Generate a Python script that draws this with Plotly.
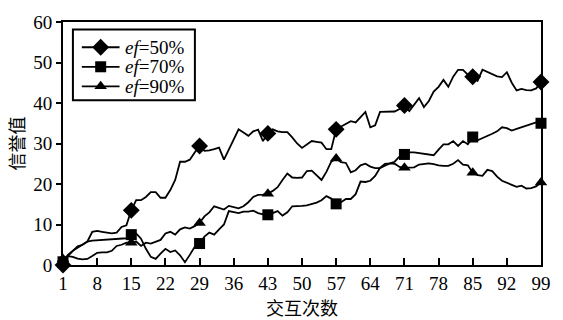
import plotly.graph_objects as go

# Interaction count (x) and trust value of each series
steps = list(range(1, 100))

ef50 = [0, 2.2, 3.5, 4.3, 5.2, 5.8, 8.2, 8.4, 8.2, 8.0,
        7.8, 8.0, 9.4, 9.8, 13.5, 16.0, 16.0, 16.8, 18.0, 18.0,
        16.6, 16.6, 18.5, 21.0, 25.5, 25.5, 26.0, 27.8, 29.4, 28.2,
        28.3, 28.6, 29.0, 26.0, 28.5, 31.0, 33.5, 32.7, 31.9, 33.0,
        33.4, 30.6, 32.5, 33.5, 33.0, 32.8, 32.8, 31.5, 30.0, 28.9,
        29.8, 30.6, 30.4, 30.2, 28.6, 28.6, 33.5, 34.2, 34.7, 35.5,
        35.2, 36.5, 37.8, 34.0, 34.5, 37.8, 37.8, 37.8, 37.9, 38.5,
        39.4, 38.0, 39.6, 41.2, 39.0, 40.5, 42.8, 44.0, 45.7, 44.0,
        46.5, 48.2, 48.2, 47.0, 46.5, 45.5, 48.2, 47.6, 47.2, 46.6,
        46.4, 47.6, 45.0, 43.1, 43.5, 43.2, 43.1, 43.6, 45.2]

ef70 = [0.8, 2.5, 3.5, 4.6, 5.0, 5.8, 6.0, 6.1, 6.2, 6.2,
        6.3, 6.5, 6.6, 6.6, 7.5, 7.8, 6.5, 4.0, 2.0, 1.5,
        2.8, 4.0, 3.2, 3.6, 2.4, 0.7, 2.5, 4.5, 5.3, 7.0,
        8.0, 7.5, 8.8, 10.0, 13.3, 13.0, 12.8, 13.2, 13.2, 13.4,
        12.8, 12.5, 12.4, 12.8, 13.3, 12.2, 13.0, 14.5, 14.5, 14.6,
        14.7, 15.0, 15.4, 16.0, 17.0, 16.4, 15.1, 15.5, 16.3, 16.3,
        17.5, 20.6, 20.5, 20.8, 22.0, 24.0, 25.0, 25.1, 25.5, 26.8,
        27.3, 27.8, 27.8, 27.6, 27.4, 27.2, 27.1, 28.5, 29.8, 29.8,
        30.6, 29.4, 30.6, 29.8, 31.6, 30.8, 31.3, 31.8, 32.4, 33.0,
        34.0, 33.8, 33.2, 33.6, 34.0, 34.4, 34.9, 35.2, 35.0]

ef90 = [1.5, 2.2, 2.0, 1.6, 1.4, 1.5, 2.2, 3.0, 3.1, 3.1,
        3.5, 4.7, 5.0, 5.5, 5.5, 5.8, 4.7, 5.5, 5.3, 5.7,
        6.2, 7.8, 8.2, 7.5, 8.8, 9.3, 9.0, 9.6, 10.4, 12.0,
        13.0, 14.5, 14.0, 13.7, 14.6, 14.3, 14.0, 14.5, 15.5, 16.8,
        17.3, 17.4, 17.6, 18.3, 19.2, 21.0, 22.6, 21.6, 21.5, 21.6,
        23.2, 23.3, 22.2, 21.0, 23.0, 25.5, 26.3, 25.4, 25.2, 22.9,
        23.4, 24.6, 25.0, 24.3, 23.9, 23.9, 24.5, 25.1, 25.0, 24.2,
        24.0, 24.0, 24.1, 24.8, 24.9, 25.1, 24.9, 24.6, 24.5, 24.5,
        25.0, 25.9, 24.8, 24.6, 22.8, 22.2, 22.0, 23.5, 23.2, 21.8,
        20.8, 20.2, 19.8, 19.3, 19.6, 18.9, 19.0, 19.4, 20.4]

series_names = ["<i>ef</i>=50%", "<i>ef</i>=70%", "<i>ef</i>=90%"]
series_values = [ef50, ef70, ef90]
series_symbols = ["diamond", "square", "triangle-up"]
series_msize = [13, 11, 11]

x_ticks = [1, 8, 15, 22, 29, 36, 43, 50, 57, 64, 71, 78, 85, 92, 99]
marked_steps = [1, 15, 29, 43, 57, 71, 85, 99]

SERIF = "Liberation Serif"
CJK = "Noto Sans CJK SC"

fig = go.Figure()
for name, vals, sym, ms in zip(series_names, series_values,
                               series_symbols, series_msize):
    fig.add_trace(go.Scatter(
        x=steps, y=vals, mode="lines", name=name,
        line=dict(color="black", width=1.8),
        showlegend=False, hoverinfo="skip"))
    fig.add_trace(go.Scatter(
        x=marked_steps, y=[vals[s - 1] for s in marked_steps],
        mode="markers", cliponaxis=False, name=name,
        marker=dict(symbol=sym, size=ms, color="black"),
        showlegend=False, hoverinfo="skip"))

# Compact boxed key drawn on a hidden overlay (pixel-like units over the plot area)
key_top, key_row = 41.5, 20.5
fig.add_shape(type="rect", xref="x2", yref="y2",
              x0=73, x1=196, y0=23, y1=97,
              line=dict(color="black", width=2), fillcolor="white", layer="below")
for i, (name, sym, ms) in enumerate(zip(series_names, series_symbols, series_msize)):
    ry = key_top + i * key_row
    fig.add_trace(go.Scatter(
        x=[82, 101, 120], y=[ry, ry, ry], xaxis="x2", yaxis="y2",
        mode="lines", line=dict(color="black", width=1.8),
        showlegend=False, hoverinfo="skip"))
    fig.add_trace(go.Scatter(
        x=[101], y=[ry], xaxis="x2", yaxis="y2",
        mode="markers", marker=dict(symbol=sym, size=ms, color="black"),
        showlegend=False, hoverinfo="skip"))
    fig.add_annotation(x=124, y=ry, xref="x2", yref="y2", text=name,
                       showarrow=False, xanchor="left", yanchor="middle",
                       font=dict(family=SERIF, size=19, color="black"))

fig.update_layout(
    width=563, height=320,
    margin=dict(l=63, r=18, t=15, b=50),
    paper_bgcolor="white", plot_bgcolor="white",
    font=dict(family=SERIF, size=18, color="black"),
    showlegend=False,
    xaxis2=dict(overlaying="x", range=[63, 545], visible=False, fixedrange=True),
    yaxis2=dict(overlaying="y", range=[270, 15], visible=False, fixedrange=True),
)

fig.update_layout(xaxis=dict(
    range=[1, 99], tickvals=x_ticks, ticktext=[str(t) for t in x_ticks],
    ticks="inside", ticklen=7, tickwidth=1.5, tickcolor="black",
    showline=True, linecolor="black", linewidth=2, mirror=True,
    showgrid=False, zeroline=False,
    tickfont=dict(family=SERIF, size=19),
    title=dict(text="交互次数", standoff=2,
               font=dict(family=CJK, size=18))))

fig.update_layout(yaxis=dict(
    range=[0, 60], dtick=10,
    ticks="outside", ticklen=5, tickwidth=1.5, tickcolor="black",
    showline=True, linecolor="black", linewidth=2, mirror=True,
    showgrid=False, zeroline=False,
    tickfont=dict(family=SERIF, size=19),
    title=dict(text="信誉值", standoff=4,
               font=dict(family=CJK, size=18))))

fig.write_html("out.html")
